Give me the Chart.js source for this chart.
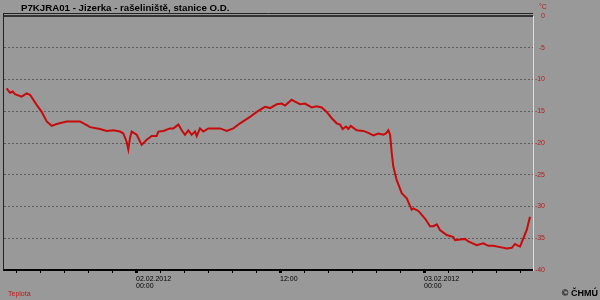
<!DOCTYPE html>
<html>
<head>
<meta charset="utf-8">
<script src="https://cdn.jsdelivr.net/npm/chart.js@4/dist/chart.umd.min.js"></script>
<style>
  html, body { margin: 0; padding: 0; background: #999999; }
  #wrap { position: relative; width: 600px; height: 300px; background: #999999; overflow: hidden; font-family: Arial, "Liberation Sans", sans-serif; }
  #chart { position: absolute; left: 0; top: 0; }
  .txt { position: absolute; white-space: nowrap; line-height: 1; }
  #title { left: 21px; top: 3px; font-size: 9.7px; font-weight: bold; color: #000; }
  #unit { left: 539px; top: 3px; font-size: 7px; color: #b81c1c; }
  #series { left: 8px; top: 290px; font-size: 7px; color: #c01818; }
  #copy { right: 2px; top: 289px; font-size: 9px; font-weight: bold; color: #000; }
</style>
</head>
<body>
<div id="wrap">
  <canvas id="chart" width="600" height="300"></canvas>
  <div class="txt" id="title">P7KJRA01 - Jizerka - rašeliniště, stanice O.D.</div>
  <div class="txt" id="unit">°C</div>
  <div class="txt" id="series">Teplota</div>
  <div class="txt" id="copy">© ČHMÚ</div>
</div>
<script>
// hours since 01.02.2012 00:00
const hours = [
  13.22, 13.5, 13.72, 13.92, 14.47, 14.89, 15.17, 15.72, 16.14, 16.56,
  16.97, 17.39, 18.22, 19.33, 19.89, 20.17, 21.0, 21.56, 22.11, 22.67,
  22.94, 23.22, 23.36, 23.5, 23.64, 24.06, 24.47, 24.89, 25.31, 25.72,
  25.86, 26.28, 26.83, 27.11, 27.53, 27.81, 28.08, 28.36, 28.64, 28.92,
  29.06, 29.33, 29.61, 30.03, 31.0, 31.56, 32.11, 32.67, 33.5, 34.06,
  34.75, 35.17, 35.72, 36.14, 36.42, 36.97, 37.25, 37.67, 38.08, 38.64,
  39.06, 39.47, 39.89, 40.31, 40.72, 41.0, 41.22, 41.5, 41.69, 41.89,
  42.39, 42.94, 43.36, 43.78, 44.19, 44.61, 44.83, 45.03, 45.17, 45.31,
  45.44, 45.72, 46.14, 46.56, 46.97, 47.11, 47.53, 48.08, 48.5, 48.78,
  49.06, 49.33, 49.89, 50.44, 50.58, 51.0, 51.42, 51.69, 52.39, 52.94,
  53.36, 53.78, 54.33, 54.89, 55.31, 55.58, 55.86, 56.0, 56.28, 56.56,
  56.83
];
const teplota = [
  -11.4, -12.1, -11.9, -12.3, -12.7, -12.2, -12.4, -14.0, -15.1, -16.6,
  -17.3, -17.0, -16.6, -16.6, -17.2, -17.5, -17.8, -18.1, -18.0, -18.2,
  -18.5, -19.8, -21.0, -19.2, -18.2, -18.7, -20.3, -19.5, -18.9, -18.9,
  -18.2, -18.1, -17.7, -17.7, -17.1, -18.0, -18.7, -18.0, -18.7, -18.2,
  -18.9, -17.7, -18.2, -17.7, -17.7, -18.1, -17.7, -16.9, -15.9, -15.1,
  -14.3, -14.5, -13.9, -13.8, -14.1, -13.2, -13.5, -13.9, -13.8, -14.4,
  -14.2, -14.4, -15.1, -16.1, -16.9, -17.1, -17.8, -17.4, -17.8, -17.3,
  -18.0, -18.1, -18.4, -18.8, -18.5, -18.7, -18.5, -18.0, -18.7, -21.6,
  -23.7, -25.8, -27.9, -28.7, -30.5, -30.3, -30.7, -31.9, -33.1, -33.1,
  -32.8, -33.7, -34.5, -34.8, -35.3, -35.2, -35.1, -35.5, -36.1, -35.8,
  -36.2, -36.2, -36.4, -36.6, -36.5, -35.9, -36.2, -36.3, -35.0, -33.7,
  -31.6
];
// x tick marks every 2 hours, labels only at the major ones
const tickHours = [14, 16, 18, 20, 22, 24, 26, 28, 30, 32, 34, 36, 38, 40, 42, 44, 46, 48, 50, 52, 54, 56];
const tickLabels = { 24: ['02.02.2012', '00:00'], 36: '12:00', 48: ['03.02.2012', '00:00'] };
const yTicks = [0, -5, -10, -15, -20, -25, -30, -35, -40];

const points = hours.map((h, i) => ({ x: h, y: teplota[i] }));

// left border and double top line of the plot frame
const framePlugin = {
  id: 'frame',
  afterDraw(chart) {
    const { ctx, chartArea: a } = chart;
    ctx.save();
    ctx.strokeStyle = '#222';
    ctx.lineWidth = 1;
    ctx.beginPath();
    ctx.moveTo(a.left - 0.5, a.top - 3);
    ctx.lineTo(a.left - 0.5, a.bottom);
    ctx.moveTo(a.left, a.top - 2.5);
    ctx.lineTo(a.right, a.top - 2.5);
    ctx.stroke();
    ctx.restore();
  }
};

new Chart(document.getElementById('chart').getContext('2d'), {
  type: 'line',
  data: {
    datasets: [{
      label: 'Teplota',
      data: points,
      borderColor: '#c80a0a',
      borderWidth: 2,
      pointRadius: 0,
      tension: 0,
      fill: false
    }]
  },
  options: {
    responsive: false,
    animation: false,
    layout: { padding: { left: 4, top: 16, right: 55, bottom: 0 } },
    plugins: {
      legend: { display: false },
      tooltip: { enabled: false }
    },
    scales: {
      x: {
        type: 'linear',
        min: 13,
        max: 57.08,
        afterBuildTicks: scale => { scale.ticks = tickHours.map(v => ({ value: v })); },
        afterFit: scale => { scale.height = 30; },
        grid: {
          drawOnChartArea: false,
          drawTicks: true,
          tickLength: 3,
          tickColor: '#000',
          tickWidth: ctx => (ctx.tick && ctx.tick.value % 12 === 0 ? 3 : 1)
        },
        border: { display: true, color: '#000', width: 2 },
        ticks: {
          autoSkip: false,
          maxRotation: 0,
          align: 'start',
          padding: 2,
          color: '#000',
          font: { family: 'Arial, "Liberation Sans", sans-serif', size: 7, lineHeight: 1.1 },
          callback: value => tickLabels[value] || ''
        }
      },
      y: {
        position: 'right',
        min: -40,
        max: 0,
        afterBuildTicks: scale => { scale.ticks = yTicks.map(v => ({ value: v })); },
        afterFit: scale => { scale.width = 12; },
        grid: {
          drawTicks: false,
          color: ctx => {
            if (ctx.tick.value === 0) return '#333';
            if (ctx.tick.value === -40) return 'rgba(0,0,0,0)';
            return '#5c5c5c';
          },
          lineWidth: ctx => (ctx.tick.value === 0 ? 2 : 1)
        },
        border: {
          display: true,
          color: '#dddddd',
          width: 1,
          dash: ctx => (ctx.tick && ctx.tick.value === 0 ? [] : [2, 2])
        },
        ticks: {
          crossAlign: 'far',
          padding: 3,
          color: '#b81c1c',
          font: { family: 'Arial, "Liberation Sans", sans-serif', size: 7 }
        }
      }
    }
  },
  plugins: [framePlugin]
});
</script>
</body>
</html>
